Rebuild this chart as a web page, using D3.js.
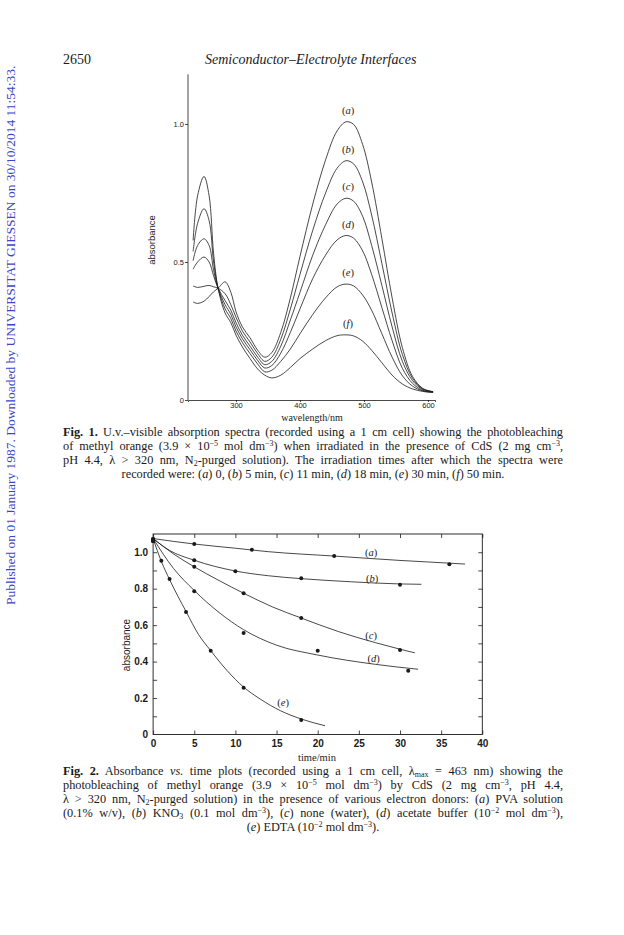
<!DOCTYPE html>
<html>
<head>
<meta charset="utf-8">
<script src="https://cdn.jsdelivr.net/npm/d3@7"></script>
<style>
  body { margin: 0; background: #fff; }
  svg { display: block; }
</style>
</head>
<body>
<div id="page"></div>
<script>
// ---- Fig. 1 spectra (wavelength / nm, absorbance) ----
const wavelengths = [233, 240, 250, 258, 265, 272, 283, 292, 300, 310, 322, 334, 345, 356, 370,
  385, 400, 420, 440, 458, 472, 484, 498, 512, 528, 544, 560, 576, 592, 608];
const specA = [0.355, 0.35, 0.358, 0.375, 0.392, 0.405, 0.428, 0.39, 0.32, 0.265, 0.225, 0.18, 0.155, 0.172, 0.245,
  0.37, 0.52, 0.71, 0.87, 0.975, 1.008, 0.998, 0.925, 0.79, 0.585, 0.37, 0.19, 0.085, 0.042, 0.03];
const specB = [0.413, 0.408, 0.412, 0.415, 0.41, 0.405, 0.385, 0.345, 0.3, 0.25, 0.21, 0.168, 0.14, 0.155, 0.22,
  0.33, 0.455, 0.615, 0.75, 0.84, 0.867, 0.855, 0.79, 0.67, 0.495, 0.315, 0.165, 0.078, 0.04, 0.03];
const specC = [0.474, 0.5, 0.518, 0.5, 0.45, 0.405, 0.36, 0.325, 0.28, 0.235, 0.195, 0.155, 0.128, 0.14, 0.195,
  0.29, 0.39, 0.525, 0.635, 0.71, 0.731, 0.72, 0.665, 0.56, 0.415, 0.265, 0.14, 0.07, 0.038, 0.03];
const specD = [0.505, 0.56, 0.584, 0.56, 0.47, 0.405, 0.345, 0.31, 0.265, 0.222, 0.182, 0.143, 0.116, 0.125, 0.17,
  0.245, 0.33, 0.44, 0.525, 0.58, 0.596, 0.586, 0.54, 0.455, 0.335, 0.215, 0.115, 0.06, 0.035, 0.029];
const specE = [0.538, 0.64, 0.693, 0.65, 0.5, 0.405, 0.33, 0.295, 0.25, 0.208, 0.168, 0.13, 0.102, 0.108, 0.14,
  0.185, 0.24, 0.31, 0.37, 0.41, 0.42, 0.413, 0.38, 0.325, 0.24, 0.155, 0.088, 0.05, 0.033, 0.028];
const specF = [0.578, 0.74, 0.81, 0.74, 0.53, 0.405, 0.315, 0.28, 0.235, 0.192, 0.15, 0.112, 0.09, 0.08, 0.09,
  0.118, 0.15, 0.185, 0.215, 0.233, 0.236, 0.232, 0.213, 0.18, 0.135, 0.09, 0.058, 0.04, 0.031, 0.027];
const specLabels = ['(a)', '(b)', '(c)', '(d)', '(e)', '(f)'];
const fig1XTicks = [300, 400, 500, 600];
const fig1YTicks = [0, 0.5, 1.0];

// ---- Fig. 2 absorbance vs time ----
const pointsA = [[0, 1.072], [5, 1.045], [12, 1.014], [22, 0.979], [36, 0.934]];
const pointsB = [[0, 1.072], [5, 0.956], [10, 0.895], [18, 0.857], [30, 0.822]];
const pointsC = [[0, 1.062], [5, 0.92], [11, 0.775], [18, 0.639], [30, 0.463]];
const pointsD = [[0, 1.062], [5, 0.786], [11, 0.557], [20, 0.46], [31, 0.35]];
const pointsE = [[0, 1.062], [1, 0.953], [2, 0.853], [4, 0.672], [7, 0.46], [11, 0.257], [18, 0.08]];
// drawn-through curves
const fitA = [[0, 1.075], [5, 1.045], [10, 1.022], [14, 1.003], [22, 0.979], [30, 0.955], [36, 0.94], [37.9, 0.935]];
const fitB = [[0, 1.075], [2, 1.01], [5, 0.956], [10, 0.897], [14, 0.871], [18, 0.855], [24, 0.838], [30, 0.826], [32.6, 0.824]];
const fitC = [[0, 1.075], [2.5, 0.99], [5, 0.92], [8, 0.845], [11, 0.775], [14.5, 0.7], [18, 0.639], [22.5, 0.565], [27, 0.504], [30, 0.468], [31.8, 0.448]];
const fitD = [[0, 1.075], [2.5, 0.91], [5, 0.79], [8, 0.67], [11, 0.575], [15, 0.49], [20, 0.436], [27, 0.385], [32.2, 0.358]];
const fitE = [[0, 1.075], [1, 0.95], [2, 0.85], [4, 0.675], [5.5, 0.55], [7, 0.46], [9, 0.35], [11, 0.26], [13, 0.195], [15.5, 0.13], [18, 0.085], [20.9, 0.048]];
const rateLabels = [['(a)', 26.5, 1.0], ['(b)', 26.6, 0.86], ['(c)', 26.5, 0.545], ['(d)', 26.8, 0.42], ['(e)', 15.8, 0.18]];
const fig2XTicks = [0, 5, 10, 15, 20, 25, 30, 35, 40];
const fig2YMinor = [0.1, 0.2, 0.3, 0.4, 0.5, 0.6, 0.7, 0.8, 0.9, 1.0];
const fig2YTicks = [0, 0.2, 0.4, 0.6, 0.8, 1.0];

const ink = '#1a1a1a';
const serif = '"Liberation Serif", "DejaVu Serif", serif';
const sans = '"Liberation Sans", Arial, sans-serif';

const svg = d3.select('#page').append('svg')
  .attr('width', 624)
  .attr('height', 935)
  .style('font-family', serif);

// stretch the gaps between words so a line fills the column
const justify = (t, width) => {
  const w = t.node().getComputedTextLength();
  const gaps = (t.text().match(/ /g) || []).length;
  if (w < width && gaps) t.attr('word-spacing', (width - w) / gaps);
  else if (w > width) t.attr('textLength', width).attr('lengthAdjust', 'spacingAndGlyphs');
};

// writes a line of mixed text; segs are strings or [text, style]
const richLine = (g, x, y, segs, opts = {}) => {
  const t = g.append('text')
    .attr('x', x)
    .attr('y', y)
    .attr('font-size', 12.3)
    .attr('fill', ink)
    .attr('text-anchor', opts.anchor || 'start');
  let shift = 0;
  segs.forEach(s => {
    const [txt, st] = typeof s === 'string' ? [s, ''] : s;
    const ts = t.append('tspan').text(txt);
    let want = 0;
    if (st === 'sup') { want = -4; ts.attr('font-size', 8); }
    if (st === 'sub') { want = 1.5; ts.attr('font-size', 8); }
    if (want !== shift) { ts.attr('dy', want - shift); shift = want; }
    if (st === 'b') ts.attr('font-weight', 'bold');
    if (st === 'i') ts.attr('font-style', 'italic');
  });
  if (opts.width) justify(t, opts.width);
  return t;
};

// ---- page furniture ----
svg.append('text').attr('x', 63).attr('y', 64).attr('font-size', 14).attr('fill', ink).text('2650');
svg.append('text').attr('x', 205).attr('y', 64).attr('font-size', 14).attr('font-style', 'italic')
  .attr('fill', ink).text('Semiconductor–Electrolyte Interfaces');

const mark = svg.append('text')
  .attr('transform', 'translate(15,605) rotate(-90)')
  .attr('font-size', 10.5)
  .attr('fill', '#3a46c8')
  .text('Published on 01 January 1987. Downloaded by UNIVERSITAT GIESSEN on 30/10/2014 11:54:33.');
mark.attr('font-size', 10.5 * 540 / mark.node().getComputedTextLength());

// ---- Fig. 1 ----
const x1 = d3.scaleLinear().domain([225, 611]).range([188, 435]);
const y1 = d3.scaleLinear().domain([0, 1]).range([400, 124]);
const g1 = svg.append('g');

const axis1Y = g1.append('g').attr('transform', 'translate(188,0)')
  .call(d3.axisLeft(y1.copy().domain([0, 1.18]).range([400, 74.3])).tickValues(fig1YTicks).tickSize(3).tickPadding(1)
    .tickFormat(d => d === 0 ? '0' : d3.format('.1f')(d)));
const axis1X = g1.append('g').attr('transform', 'translate(0,400)')
  .call(d3.axisBottom(x1).tickValues(fig1XTicks).tickSize(2).tickPadding(1));
[axis1Y, axis1X].forEach(a => {
  a.selectAll('path, line').attr('stroke', ink).attr('stroke-width', 0.8);
  a.selectAll('text').attr('font-family', sans).attr('font-size', 7.5).attr('fill', ink);
});
axis1Y.select('.domain').attr('d', `M0,${y1(1.18)}V400`);

g1.append('text').attr('transform', 'translate(155,240) rotate(-90)')
  .attr('text-anchor', 'middle').attr('font-family', sans).attr('font-size', 9.5).attr('fill', ink)
  .text('absorbance');
g1.append('text').attr('x', 312).attr('y', 421).attr('text-anchor', 'middle')
  .attr('font-size', 10).attr('fill', ink).text('wavelength/nm');

const spectra = [specA, specB, specC, specD, specE, specF];
const specLine = d3.line().x((d, i) => x1(wavelengths[i])).y(d => y1(d)).curve(d3.curveCatmullRom.alpha(0.5));
g1.selectAll('.spec').data(spectra).enter().append('path')
  .attr('class', 'spec')
  .attr('d', specLine)
  .attr('fill', 'none')
  .attr('stroke', ink)
  .attr('stroke-width', 0.8);

g1.selectAll('.spec-label').data(spectra).enter().append('text')
  .attr('class', 'spec-label')
  .attr('x', d => x1(wavelengths[d.indexOf(d3.max(d.slice(12)))]) + 2)
  .attr('y', d => y1(d3.max(d.slice(12))) - 8)
  .attr('text-anchor', 'middle')
  .attr('font-size', 10.5)
  .attr('fill', ink)
  .each(function (d, i) {
    const t = d3.select(this);
    t.append('tspan').text('(');
    t.append('tspan').attr('font-style', 'italic').text(specLabels[i].slice(1, 2));
    t.append('tspan').text(')');
  });

// caption 1
const cap1 = svg.append('g');
richLine(cap1, 63, 436, [['Fig. 1.', 'b'], ' U.v.–visible absorption spectra (recorded using a 1 cm cell) showing the photobleaching'], {width: 500});
richLine(cap1, 63, 450, ['of methyl orange (3.9 × 10', ['−5', 'sup'], ' mol dm', ['−3', 'sup'], ') when irradiated in the presence of CdS (2 mg cm', ['−3', 'sup'], ','], {width: 500});
richLine(cap1, 63, 464, ['pH 4.4, λ > 320 nm, N', ['2', 'sub'], '-purged solution). The irradiation times after which the spectra were'], {width: 500});
richLine(cap1, 313, 478, ['recorded were: (', ['a', 'i'], ') 0, (', ['b', 'i'], ') 5 min, (', ['c', 'i'], ') 11 min, (', ['d', 'i'], ') 18 min, (', ['e', 'i'], ') 30 min, (', ['f', 'i'], ') 50 min.'], {anchor: 'middle'});

// ---- Fig. 2 ----
const x2 = d3.scaleLinear().domain([0, 40]).range([153.1, 482.3]);
const y2 = d3.scaleLinear().domain([0, 1.1]).range([734.5, 534]);
const g2 = svg.append('g');

g2.append('rect')
  .attr('x', x2(0)).attr('y', y2(1.1))
  .attr('width', x2(40) - x2(0)).attr('height', y2(0) - y2(1.1))
  .attr('fill', 'none').attr('stroke', ink).attr('stroke-width', 0.9);

const minorFmt = () => '';
const ax = [
  g2.append('g').attr('transform', `translate(${x2(0)},0)`).call(d3.axisLeft(y2).tickValues(fig2YMinor).tickSize(-4).tickFormat(minorFmt)),
  g2.append('g').attr('transform', `translate(${x2(40)},0)`).call(d3.axisRight(y2).tickValues(fig2YMinor).tickSize(-4).tickFormat(minorFmt)),
  g2.append('g').attr('transform', `translate(0,${y2(1.1)})`).call(d3.axisTop(x2).tickValues(fig2XTicks).tickSize(-4).tickFormat(minorFmt)),
  g2.append('g').attr('transform', `translate(0,${y2(0)})`).call(d3.axisBottom(x2).tickValues(fig2XTicks).tickSize(-4).tickPadding(5)),
  g2.append('g').attr('transform', `translate(${x2(0)},0)`).call(d3.axisLeft(y2).tickValues(fig2YTicks).tickSize(0).tickPadding(5)
    .tickFormat(d => d === 0 ? '0' : d3.format('.1f')(d)))
];
ax.forEach(a => {
  a.select('.domain').remove();
  a.selectAll('line').attr('stroke', ink).attr('stroke-width', 0.8);
  a.selectAll('text').attr('font-family', sans).attr('font-weight', 'bold').attr('font-size', 10).attr('fill', ink);
});

g2.append('text').attr('transform', 'translate(129.5,645) rotate(-90)')
  .attr('text-anchor', 'middle').attr('font-family', sans).attr('font-size', 10).attr('fill', ink)
  .text('absorbance');
g2.append('text').attr('x', 317).attr('y', 761).attr('text-anchor', 'middle')
  .attr('font-size', 10.5).attr('fill', ink).text('time/min');

const fits = [fitA, fitB, fitC, fitD, fitE];
const fitLine = d3.line().x(d => x2(d[0])).y(d => y2(d[1])).curve(d3.curveMonotoneX);
g2.selectAll('.fit').data(fits).enter().append('path')
  .attr('class', 'fit')
  .attr('d', fitLine)
  .attr('fill', 'none')
  .attr('stroke', ink)
  .attr('stroke-width', 0.8);

const allPoints = [pointsA, pointsB, pointsC, pointsD, pointsE].flat();
g2.selectAll('.pt').data(allPoints).enter().append('circle')
  .attr('class', 'pt')
  .attr('cx', d => x2(d[0]))
  .attr('cy', d => y2(d[1]))
  .attr('r', 2)
  .attr('fill', ink);

g2.selectAll('.rate-label').data(rateLabels).enter().append('text')
  .attr('class', 'rate-label')
  .attr('x', d => x2(d[1]))
  .attr('y', d => y2(d[2]) + 4)
  .attr('text-anchor', 'middle')
  .attr('font-size', 10.5)
  .attr('fill', ink)
  .each(function (d) {
    const t = d3.select(this);
    t.append('tspan').text('(');
    t.append('tspan').attr('font-style', 'italic').text(d[0].slice(1, 2));
    t.append('tspan').text(')');
  });

// caption 2
const cap2 = svg.append('g');
richLine(cap2, 63, 775, [['Fig. 2.', 'b'], ' Absorbance ', ['vs.', 'i'], ' time plots (recorded using a 1 cm cell, λ', ['max', 'sub'], ' = 463 nm) showing the'], {width: 500});
richLine(cap2, 63, 789, ['photobleaching of methyl orange (3.9 × 10', ['−5', 'sup'], ' mol dm', ['−3', 'sup'], ') by CdS (2 mg cm', ['−3', 'sup'], ', pH 4.4,'], {width: 500});
richLine(cap2, 63, 803, ['λ > 320 nm, N', ['2', 'sub'], '-purged solution) in the presence of various electron donors: (', ['a', 'i'], ') PVA solution'], {width: 500});
richLine(cap2, 63, 817, ['(0.1% w/v), (', ['b', 'i'], ') KNO', ['3', 'sub'], ' (0.1 mol dm', ['−3', 'sup'], '), (', ['c', 'i'], ') none (water), (', ['d', 'i'], ') acetate buffer (10', ['−2', 'sup'], ' mol dm', ['−3', 'sup'], '),'], {width: 500});
richLine(cap2, 313, 831, ['(', ['e', 'i'], ') EDTA (10', ['−2', 'sup'], ' mol dm', ['−3', 'sup'], ').'], {anchor: 'middle'});
</script>
</body>
</html>
